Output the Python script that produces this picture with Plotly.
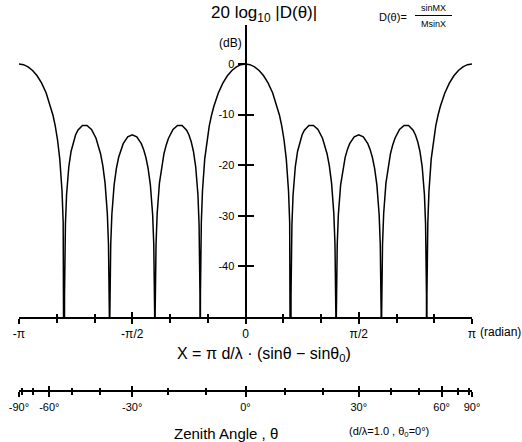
import math
import plotly.graph_objects as go

# ---------------------------------------------------------------------------
# Array factor D = sin(MX) / (M sin X), M = 5, plotted as 20*log10|D| in dB.
# One quarter period (X/pi from 0 to 0.5) is listed; the curve is symmetric
# about X = 0 and X = pi/2. None marks a null (minus infinity in dB).
# ---------------------------------------------------------------------------
X_OVER_PI = [
    0.00, 0.02, 0.04, 0.06, 0.08, 0.10, 0.12, 0.14, 0.15, 0.16, 0.17, 0.18,
    0.19, 0.195, 0.199, 0.20, 0.201, 0.205, 0.21, 0.22, 0.23, 0.24, 0.25,
    0.26, 0.28, 0.30, 0.32, 0.34, 0.35, 0.36, 0.37, 0.38, 0.39, 0.395,
    0.399, 0.40, 0.401, 0.405, 0.41, 0.42, 0.43, 0.44, 0.45, 0.46, 0.48, 0.50,
]
LEVEL_DB = [
    0.0, -0.14, -0.56, -1.28, -2.33, -3.78, -5.74, -8.40, -10.13, -12.25,
    -14.97, -18.76, -25.09, -31.28, -45.40, None, -45.48, -31.66, -25.84,
    -20.27, -17.25, -15.30, -13.98, -13.07, -12.15, -12.14, -12.95, -14.67,
    -15.99, -17.73, -20.09, -23.55, -29.56, -35.61, -49.61, None, -49.63,
    -35.69, -29.74, -23.90, -20.63, -18.44, -16.88, -15.75, -14.40, -13.98,
]
NULL_DRAW_DB = -90.0  # nulls are drawn below the -50 dB floor

# dB axis
DB_RANGE = [-50, 7.7]
DB_TICKS = [-40, -30, -20, -10, 0]
DB_TICK_TEXT = ["-40", "-30", "-20", "-10", "0"]

# X axis (units of pi)
X_MAJOR = [-1.0, -0.5, 0.0, 0.5, 1.0]
X_MAJOR_TEXT = ["-π", "-π/2", "0", "π/2", "π"]
X_MINOR = [-5 / 6, -2 / 3, -1 / 3, -1 / 6, 1 / 6, 1 / 3, 2 / 3, 5 / 6]

# Zenith-angle axis (degrees); d/lambda = 1.0, theta0 = 0  ->  X = pi*sin(theta)
ZEN_MAJOR = [-90, -60, -30, 0, 30, 60, 90]
ZEN_MAJOR_TEXT = ["-90°", "-60°", "-30°", "0°", "30°", "60°", "90°"]
ZEN_MINOR = [-80, -70, -50, -40, -20, -10, 10, 20, 40, 50, 70, 80]
D_OVER_LAMBDA = 1.0

# ---------------------------------------------------------------------------
# build the full curve from the quarter period
# ---------------------------------------------------------------------------
q_x = X_OVER_PI
q_y = [NULL_DRAW_DB if v is None else v for v in LEVEL_DB]
half_x = q_x + [1.0 - v for v in reversed(q_x[:-1])]
half_y = q_y + list(reversed(q_y[:-1]))
full_x = [-v for v in reversed(half_x[1:])] + half_x
full_y = list(reversed(half_y[1:])) + half_y
curve_x = [math.pi * v for v in full_x]

PI = math.pi
W, H = 522, 442
ML, MR = 19, 50
PLOT_W = W - ML - MR


def px(xp):
    return (xp - ML) / PLOT_W


def py(yp):
    return (H - yp) / H


FONT = "Liberation Sans, Arial, sans-serif"
INK = "black"

fig = go.Figure()
fig.add_trace(go.Scatter(
    x=curve_x, y=full_y, mode="lines",
    line=dict(color=INK, width=1.5), hoverinfo="skip", showlegend=False,
    cliponaxis=True,
))
# empty traces so the overlaid tick axes are laid out
for xa, ya in [("x3", "y"), ("x2", "y"), ("x4", "y"), ("x", "y2")]:
    fig.add_trace(go.Scatter(x=[None], y=[None], xaxis=xa, yaxis=ya,
                             mode="lines", showlegend=False, hoverinfo="skip"))

x_rng = [-PI, PI]
y_dom = [py(317), py(25)]
zen_pos = py(391)

zen_major = [PI * D_OVER_LAMBDA * math.sin(math.radians(t)) for t in ZEN_MAJOR]
zen_minor = [PI * D_OVER_LAMBDA * math.sin(math.radians(t)) for t in ZEN_MINOR]

tick_common = dict(tickcolor=INK, tickwidth=1.5, showgrid=False, zeroline=False)

fig.update_layout(
    width=W, height=H,
    margin=dict(l=ML, r=MR, t=0, b=0, pad=0),
    paper_bgcolor="white", plot_bgcolor="white",
    showlegend=False,
    font=dict(family=FONT, color=INK),
    xaxis=dict(
        domain=[0, 1], range=x_rng, anchor="y", showline=True,
        linecolor=INK, linewidth=2, ticks="outside", ticklen=5,
        tickvals=[PI * v for v in X_MAJOR], ticktext=X_MAJOR_TEXT,
        tickfont=dict(size=12, family=FONT), ticklabelstandoff=0,
        minor=dict(tickvals=[PI * v for v in X_MINOR], ticks="outside",
                   ticklen=3.5, tickwidth=1.5, tickcolor=INK, showgrid=False),
        **tick_common,
    ),
    xaxis3=dict(
        range=x_rng, overlaying="x", anchor="y", showline=False,
        ticks="inside", ticklen=5, tickvals=[PI * v for v in X_MAJOR],
        showticklabels=False,
        minor=dict(tickvals=[PI * v for v in X_MINOR], ticks="inside",
                   ticklen=3.5, tickwidth=1.5, tickcolor=INK, showgrid=False),
        **tick_common,
    ),
    xaxis2=dict(
        range=x_rng, overlaying="x", anchor="free", position=zen_pos,
        showline=True, linecolor=INK, linewidth=2, ticks="outside", ticklen=5,
        tickvals=zen_major, ticktext=ZEN_MAJOR_TEXT,
        tickfont=dict(size=11, family=FONT), ticklabelstandoff=1,
        minor=dict(tickvals=zen_minor, ticks="outside", ticklen=3,
                   tickwidth=1.5, tickcolor=INK, showgrid=False),
        **tick_common,
    ),
    xaxis4=dict(
        range=x_rng, overlaying="x", anchor="free", position=zen_pos,
        showline=False, ticks="inside", ticklen=5, tickvals=zen_major,
        showticklabels=False,
        minor=dict(tickvals=zen_minor, ticks="inside", ticklen=3,
                   tickwidth=1.5, tickcolor=INK, showgrid=False),
        **tick_common,
    ),
    yaxis=dict(
        domain=y_dom, range=DB_RANGE, anchor="free", position=0.5,
        showline=True, linecolor=INK, linewidth=2, ticks="outside",
        ticklen=7, tickvals=DB_TICKS, ticktext=DB_TICK_TEXT,
        tickfont=dict(size=11, family=FONT), ticklabelstandoff=1,
        **tick_common,
    ),
    yaxis2=dict(
        range=DB_RANGE, overlaying="y", anchor="free", position=0.5,
        showline=False, ticks="inside", ticklen=7, tickvals=DB_TICKS[:-1],
        showticklabels=False, **tick_common,
    ),
)


def note(text, x, y, size, xanchor="center", yanchor="middle"):
    fig.add_annotation(text=text, x=px(x), y=py(y), xref="paper", yref="paper",
                       showarrow=False, xanchor=xanchor, yanchor=yanchor,
                       font=dict(size=size, family=FONT, color=INK))


note("20 log<sub>10</sub> |D(θ)|", 264, 14, 17)
note("D(θ)=", 409, 17, 11, xanchor="right")
note("sinMX", 433, 8, 9)
note("MsinX", 433, 24, 9)
fig.add_shape(type="line", xref="paper", yref="paper",
              x0=px(415), x1=px(452), y0=py(15.5), y1=py(15.5),
              line=dict(color=INK, width=1))
note("(dB)", 230, 43, 12)
note("(radian)", 478, 332, 12, xanchor="left")
note("X = π d/λ · (sinθ − sinθ<sub>0</sub>)", 264, 354, 16)
note("Zenith Angle , θ", 172, 433, 15, xanchor="left")
note("(d/λ=1.0 , θ<sub>0</sub>=0°)", 347, 432, 11, xanchor="left")

fig.write_html("out.html")
